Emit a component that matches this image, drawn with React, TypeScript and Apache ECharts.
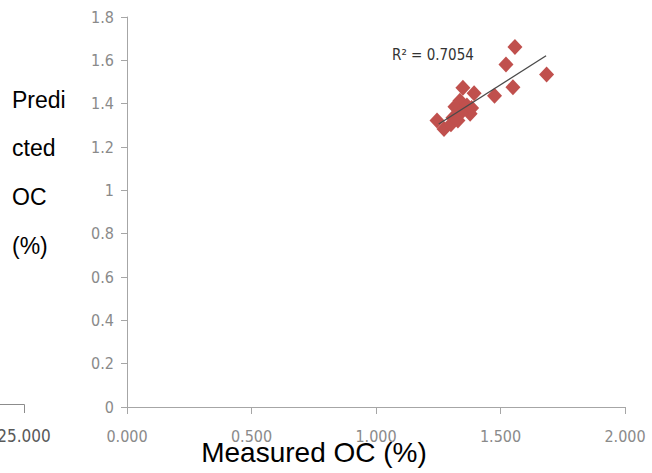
import React, { useEffect, useRef } from "react";
import * as echarts from "echarts";

const measuredOC: number[] = [1.685, 1.558, 1.522, 1.55, 1.476, 1.349, 1.394, 1.337, 1.317, 1.365, 1.378, 1.341, 1.309, 1.245, 1.273, 1.301, 1.329, 1.384];
const predictedOC: number[] = [1.535, 1.662, 1.581, 1.476, 1.436, 1.473, 1.448, 1.413, 1.386, 1.392, 1.354, 1.358, 1.335, 1.322, 1.283, 1.305, 1.322, 1.38];
const trendX: number[] = [1.252, 1.683];
const trendY: number[] = [1.306, 1.621];
const r2Label = "R² = 0.7054";
const xTitle = "Measured OC (%)";
const yTitleLines: string[] = ["Predi", "cted", "OC", "(%)"];
const leftFragmentLabel = "25.000";

const tickFont = "'Liberation Sans Narrow', 'DejaVu Sans Condensed', sans-serif";

export default function App() {
  const ref = useRef<HTMLDivElement>(null);
  useEffect(() => {
    if (!ref.current) return;
    const chart = echarts.init(ref.current, undefined, { renderer: "svg" });
    const points = measuredOC.map((x, i) => [x, predictedOC[i]]);
    const trend = trendX.map((x, i) => [x, trendY[i]]);
    chart.setOption({
      animation: false,
      backgroundColor: "#ffffff",
      grid: { left: 127, right: 27, top: 17, bottom: 66, containLabel: false },
      xAxis: {
        type: "value",
        min: 0,
        max: 2,
        interval: 0.5,
        axisLine: { show: true, lineStyle: { color: "#a6a6a6", width: 1 } },
        axisTick: { show: true, length: 7, lineStyle: { color: "#a6a6a6" } },
        splitLine: { show: false },
        axisLabel: {
          color: "#8a8a8a",
          fontFamily: tickFont,
          fontSize: 16,
          margin: 21,
          formatter: (v: number) => v.toFixed(3),
        },
      },
      yAxis: {
        type: "value",
        min: 0,
        max: 1.8,
        interval: 0.2,
        axisLine: { show: true, lineStyle: { color: "#a6a6a6", width: 1 } },
        axisTick: { show: true, length: 6, lineStyle: { color: "#a6a6a6" } },
        splitLine: { show: false },
        axisLabel: {
          color: "#8a8a8a",
          fontFamily: tickFont,
          fontSize: 16,
          margin: 13,
        },
      },
      series: [
        {
          type: "line",
          data: trend,
          showSymbol: false,
          symbol: "none",
          lineStyle: { color: "#4a4a4a", width: 1.3 },
          z: 3,
        },
        {
          type: "scatter",
          data: points,
          symbol: "diamond",
          symbolSize: [15, 16],
          itemStyle: { color: "#c0504d", opacity: 1 },
          z: 2,
        },
      ],
      graphic: [
        {
          type: "text",
          left: 392,
          top: 47,
          style: { text: r2Label, fill: "#333333", font: `15px ${tickFont}` },
        },
        ...yTitleLines.map((t, i) => ({
          type: "text",
          left: 12,
          top: 88 + i * 48.8,
          style: { text: t, fill: "#000000", font: "23px 'Liberation Sans', Arial, sans-serif" },
        })),
        {
          type: "text",
          x: 314,
          y: 452,
          style: {
            text: xTitle,
            fill: "#000000",
            font: "28px 'Liberation Sans', Arial, sans-serif",
            align: "center",
            verticalAlign: "middle",
          },
        },
        {
          type: "line",
          shape: { x1: 0, y1: 404.5, x2: 24.5, y2: 404.5 },
          style: { stroke: "#8c8c8c", lineWidth: 1 },
        },
        {
          type: "line",
          shape: { x1: 24.5, y1: 404.5, x2: 24.5, y2: 413 },
          style: { stroke: "#8c8c8c", lineWidth: 1 },
        },
        {
          type: "text",
          x: 24,
          y: 436,
          style: {
            text: leftFragmentLabel,
            fill: "#595959",
            font: `17px ${tickFont}`,
            align: "center",
            verticalAlign: "middle",
          },
        },
      ],
    });
    return () => chart.dispose();
  }, []);
  return <div ref={ref} style={{ position: "fixed", left: 0, top: 0, width: 652, height: 473 }} />;
}
